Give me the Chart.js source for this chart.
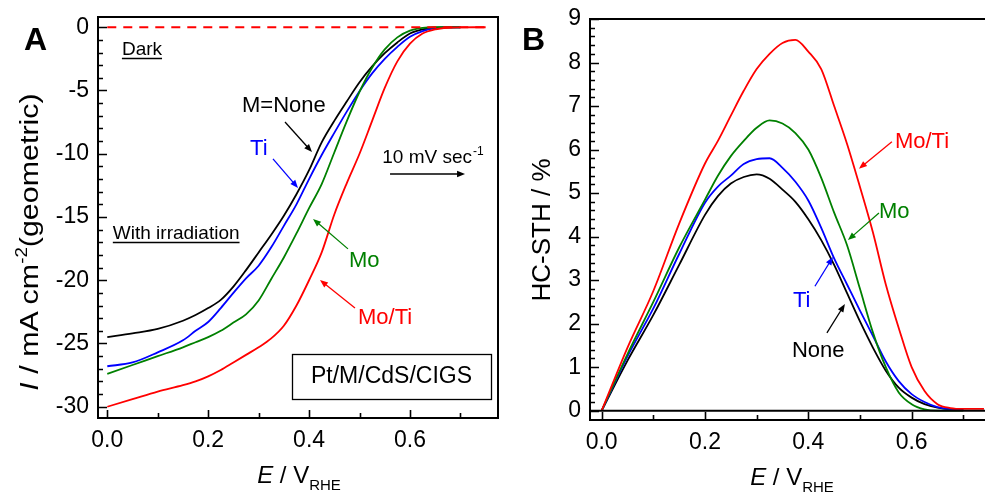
<!DOCTYPE html>
<html>
<head>
<meta charset="utf-8">
<script src="https://cdn.jsdelivr.net/npm/chart.js@4.4.1/dist/chart.umd.min.js"></script>
<style>
  body { margin: 0; background: #fff; }
  #wrap { position: relative; width: 985px; height: 498px; overflow: hidden; font-family: 'Liberation Sans', Arial, sans-serif; color: #000; }
  #wrap canvas { position: absolute; top: 0; }
  .lbl { position: absolute; white-space: nowrap; line-height: 1; }
  .panel { font-weight: bold; font-size: 32px; }
  .xt { font-size: 24px; transform: translateX(-50%); }
  .yt { font-size: 26px; transform: translate(-50%, -50%) rotate(-90deg); }
  .yt.long { transform: translate(-50%, -50%) rotate(-90deg) scaleX(1.17); }
  .lbl sub { font-size: 15px; vertical-align: baseline; position: relative; top: 7px; }
  .lbl sup { font-size: 16px; vertical-align: baseline; position: relative; top: -11px; }
</style>
</head>
<body>
<div id="wrap">
  <canvas id="chartA" width="505" height="498" style="left:0"></canvas>
  <canvas id="chartB" width="485" height="498" style="left:500px"></canvas>
  <div class="lbl panel" style="left:24px; top:23px">A</div>
  <div class="lbl panel" style="left:522px; top:23px">B</div>
  <div class="lbl yt long" style="left:29px; top:242px"><i>I</i> / mA cm<sup>-2</sup>(geometric)</div>
  <div class="lbl xt" style="left:299px; top:463px"><i>E</i> / V<sub>RHE</sub></div>
  <div class="lbl yt" style="left:541px; top:230px">HC-STH / %</div>
  <div class="lbl xt" style="left:792px; top:465px"><i>E</i> / V<sub>RHE</sub></div>
</div>
<script>
const FONT = "'Liberation Sans', Arial, Helvetica, sans-serif";

// ---- panel A: photocurrent density (mA cm^-2) vs potential (V vs RHE) ----
const potA = [0, 0.05, 0.1, 0.15, 0.175, 0.2, 0.225, 0.25, 0.275, 0.3, 0.325, 0.35, 0.375, 0.4, 0.425,
  0.45, 0.475, 0.5, 0.525, 0.55, 0.575, 0.6, 0.625, 0.65, 0.675, 0.7, 0.725, 0.75];
const jNone = [-24.5, -24.2, -23.85, -23.2, -22.75, -22.2, -21.55, -20.5, -19.2, -17.8, -16.4, -14.9, -13.2, -11.3, -9.1,
  -7.4, -5.85, -4.35, -3.1, -2.05, -1.2, -0.5, -0.17, -0.04, -0.01, 0, null, null];
const jTi = [-26.8, -26.5, -25.7, -24.75, -24.0, -23.3, -22.2, -21.0, -19.85, -18.85, -17.4, -15.7, -14.0, -12.0, -10.1,
  -8.35, -6.65, -5.05, -3.65, -2.5, -1.55, -0.75, -0.3, -0.07, -0.01, 0, null, null];
const jMo = [-27.4, -26.7, -26.0, -25.3, -24.9, -24.5, -24.0, -23.35, -22.7, -21.6, -19.9, -18.2, -16.3, -14.3, -12.4,
  -9.9, -7.4, -5.1, -3.2, -1.75, -0.8, -0.27, -0.05, 0, 0, 0, null, null];
const jMoTi = [-30.0, -29.4, -28.8, -28.3, -28.0, -27.6, -27.1, -26.5, -25.9, -25.3, -24.6, -23.6, -22.0, -20.0, -17.8,
  -14.8, -12.3, -10.0, -7.4, -4.8, -2.7, -1.3, -0.5, -0.17, -0.04, -0.01, 0, 0];
const darkPot = [0, 0.75];
const jDark = [0, 0];

const xTicksA = [0, 0.2, 0.4, 0.6];
const yTicksA = [-30, -25, -20, -15, -10, -5, 0];

// ---- panel B: half-cell solar-to-hydrogen efficiency (%) ----
const potB = [0, 0.05, 0.1, 0.15, 0.2, 0.225, 0.25, 0.275, 0.3, 0.325, 0.35, 0.375, 0.4,
  0.425, 0.45, 0.475, 0.5, 0.525, 0.55, 0.575, 0.6, 0.625, 0.65, 0.675, 0.7, 0.74];
const sthNone = [0, 1.15, 2.2, 3.35, 4.5, 4.93, 5.22, 5.37, 5.43, 5.33, 5.08, 4.8, 4.4,
  3.92, 3.35, 2.7, 2.05, 1.45, 0.92, 0.53, 0.3, 0.15, 0.07, 0.03, 0.02, null];
const sthTi = [0, 1.25, 2.35, 3.6, 4.78, 5.15, 5.4, 5.67, 5.78, 5.8, 5.58, 5.26, 4.83,
  4.2, 3.5, 2.9, 2.3, 1.72, 1.13, 0.68, 0.38, 0.2, 0.08, 0.03, 0.02, null];
const sthMo = [0, 1.3, 2.5, 3.75, 4.85, 5.4, 5.85, 6.2, 6.5, 6.67, 6.6, 6.38, 6.0,
  5.35, 4.55, 3.8, 2.8, 1.8, 1.0, 0.42, 0.15, 0.03, 0, 0, 0, null];
const sthMoTi = [0, 1.45, 2.75, 4.3, 5.68, 6.2, 6.78, 7.35, 7.85, 8.2, 8.45, 8.52, 8.25,
  7.85, 7.0, 6.13, 5.14, 4.1, 2.9, 1.9, 1.0, 0.45, 0.15, 0.06, 0.04, 0.04];

const xTicksB = [0, 0.2, 0.4, 0.6];
const yTicksB = [0, 1, 2, 3, 4, 5, 6, 7, 8, 9];

const RED = '#ff0000', GREEN = '#008000', BLUE = '#0000ff', BLACK = '#000000';

function toPoints(xs, ys) {
  return xs.map((x, i) => ({ x: x, y: ys[i] })).filter(p => p.y !== null);
}

function curve(xs, ys, color, extra) {
  return Object.assign({
    data: toPoints(xs, ys),
    borderColor: color,
    borderWidth: 1.8,
    pointRadius: 0,
    fill: false,
    cubicInterpolationMode: 'monotone'
  }, extra || {});
}

function drawArrow(ctx, x0, y0, x1, y1, color) {
  const ang = Math.atan2(y1 - y0, x1 - x0);
  const head = 8, half = 3.2;
  const c = Math.cos(ang), s = Math.sin(ang);
  ctx.strokeStyle = color;
  ctx.fillStyle = color;
  ctx.lineWidth = 1.3;
  ctx.beginPath();
  ctx.moveTo(x0, y0);
  ctx.lineTo(x1 - c * head * 0.8, y1 - s * head * 0.8);
  ctx.stroke();
  ctx.beginPath();
  ctx.moveTo(x1, y1);
  ctx.lineTo(x1 - head * c + half * s, y1 - head * s - half * c);
  ctx.lineTo(x1 - head * c - half * s, y1 - head * s + half * c);
  ctx.closePath();
  ctx.fill();
}

// frame plus inward major/minor tick marks
const framePlugin = {
  id: 'frame',
  afterDraw(chart, args, opts) {
    const { ctx, chartArea: a, scales: { x, y } } = chart;
    ctx.save();
    ctx.strokeStyle = '#000';
    ctx.lineWidth = 2;
    ctx.beginPath();
    ctx.moveTo(a.left, a.top); ctx.lineTo(a.right + 1, a.top);
    ctx.moveTo(a.left, a.top - 1); ctx.lineTo(a.left, a.bottom + 1);
    ctx.moveTo(a.left, a.bottom); ctx.lineTo(a.right + 1, a.bottom);
    if (opts.right) { ctx.moveTo(a.right, a.top - 1); ctx.lineTo(a.right, a.bottom + 1); }
    if (opts.zeroLine) {
      const py = y.getPixelForValue(0);
      ctx.moveTo(a.left, py); ctx.lineTo(a.right + 1, py);
    }
    ctx.stroke();

    const isMajor = (v, list) => list.some(t => Math.abs(t - v) < 1e-6);
    ctx.lineWidth = 1.6;
    ctx.beginPath();
    for (let i = 0; ; i++) {
      const v = opts.yFrom + i * opts.yStep;
      if (v > y.max + 1e-9) break;
      if (v < y.min) continue;
      const py = Math.round(y.getPixelForValue(v)) + 0.5;
      const len = isMajor(v, opts.yMajor) ? 9 : 5;
      ctx.moveTo(a.left, py); ctx.lineTo(a.left + len, py);
    }
    for (let i = 0; ; i++) {
      const v = opts.xFrom + i * opts.xStep;
      if (v > x.max + 1e-9) break;
      const px = Math.round(x.getPixelForValue(v)) + 0.5;
      const len = isMajor(v, opts.xMajor) ? 8 : 5;
      ctx.moveTo(px, a.bottom); ctx.lineTo(px, a.bottom - len);
    }
    ctx.stroke();
    ctx.restore();
  }
};

// curve labels, pointer arrows and the sample box
const notesPlugin = {
  id: 'notes',
  afterDatasetsDraw(chart, args, opts) {
    const { ctx, scales: { x, y } } = chart;
    ctx.save();
    (opts.arrows || []).forEach(ar => {
      drawArrow(ctx, x.getPixelForValue(ar.from[0]), y.getPixelForValue(ar.from[1]),
        x.getPixelForValue(ar.to[0]), y.getPixelForValue(ar.to[1]), ar.color);
    });
    (opts.boxes || []).forEach(b => {
      const x0 = x.getPixelForValue(b.x0), x1 = x.getPixelForValue(b.x1);
      const y0 = y.getPixelForValue(b.y0), y1 = y.getPixelForValue(b.y1);
      ctx.strokeStyle = '#000';
      ctx.lineWidth = 1.3;
      ctx.strokeRect(Math.round(x0) + 0.5, Math.round(y0) + 0.5, Math.round(x1 - x0), Math.round(y1 - y0));
    });
    (opts.labels || []).forEach(l => {
      const px = x.getPixelForValue(l.x), py = y.getPixelForValue(l.y);
      ctx.font = `${l.size}px ${FONT}`;
      ctx.fillStyle = l.color;
      ctx.textBaseline = 'alphabetic';
      ctx.textAlign = l.align || 'left';
      ctx.fillText(l.text, px, py);
      const w = ctx.measureText(l.text).width;
      if (l.sup) {
        ctx.font = `${Math.round(l.size * 0.62)}px ${FONT}`;
        ctx.textAlign = 'left';
        ctx.fillText(l.sup, px + w + 1, py - l.size * 0.42);
      }
      if (l.underline) {
        ctx.strokeStyle = l.color;
        ctx.lineWidth = 1.4;
        ctx.beginPath();
        ctx.moveTo(px, Math.round(py + 3) + 0.5);
        ctx.lineTo(px + w, Math.round(py + 3) + 0.5);
        ctx.stroke();
      }
    });
    ctx.restore();
  }
};

// tick labels may overhang the plot area; keep the area fixed by the layout padding
function noOverhang(s) {
  s.paddingTop = 0; s.paddingBottom = 0; s.paddingLeft = 0; s.paddingRight = 0;
}

function axisX(min, max, ticks, height) {
  return {
    type: 'linear', min: min, max: max,
    afterBuildTicks: s => { s.ticks = ticks.map(v => ({ value: v })); },
    afterFit: s => { s.height = height; noOverhang(s); },
    grid: { display: false, drawTicks: false },
    border: { display: false },
    ticks: { autoSkip: false, maxRotation: 0, padding: 9, color: '#000',
      font: { family: FONT, size: 23 }, callback: v => v.toFixed(1) }
  };
}

function axisY(min, max, ticks, width) {
  return {
    type: 'linear', min: min, max: max,
    afterBuildTicks: s => { s.ticks = ticks.map(v => ({ value: v })); },
    afterFit: s => { s.width = width; noOverhang(s); },
    grid: { display: false, drawTicks: false },
    border: { display: false },
    ticks: { autoSkip: false, padding: 9, color: '#000',
      font: { family: FONT, size: 23 }, callback: v => String(v) }
  };
}

new Chart(document.getElementById('chartA'), {
  type: 'line',
  data: {
    datasets: [
      curve(darkPot, jDark, RED, { borderDash: [9, 7], cubicInterpolationMode: 'default', tension: 0 }),
      curve(potA, jMoTi, RED),
      curve(potA, jMo, GREEN),
      curve(potA, jTi, BLUE),
      curve(potA, jNone, BLACK)
    ]
  },
  options: {
    responsive: false,
    animation: false,
    layout: { padding: { top: 17, right: 7, left: 0, bottom: 0 } },
    plugins: {
      legend: { display: false },
      tooltip: { enabled: false },
      frame: { right: true, yFrom: -30, yStep: 1, yMajor: yTicksA, xFrom: 0, xStep: 0.1, xMajor: xTicksA },
      notes: {
        labels: [
          { text: 'Dark', x: 0.029, y: -2.19, color: BLACK, size: 19, underline: true },
          { text: 'With irradiation', x: 0.011, y: -16.74, color: BLACK, size: 19, underline: true },
          { text: 'M=None', x: 0.267, y: -6.7, color: BLACK, size: 22 },
          { text: 'Ti', x: 0.283, y: -10.09, color: BLUE, size: 22 },
          { text: '10 mV sec', sup: '-1', x: 0.545, y: -10.73, color: BLACK, size: 19 },
          { text: 'Mo', x: 0.479, y: -18.95, color: GREEN, size: 22 },
          { text: 'Mo/Ti', x: 0.497, y: -23.45, color: RED, size: 22 },
          { text: 'Pt/M/CdS/CIGS', x: 0.5634, y: -28.12, color: BLACK, size: 23, align: 'center' }
        ],
        arrows: [
          { from: [0.3523, -7.49], to: [0.4058, -9.86], color: BLACK },
          { from: [0.3285, -10.41], to: [0.3781, -12.7], color: BLUE },
          { from: [0.5605, -11.6], to: [0.7092, -11.6], color: BLACK },
          { from: [0.4771, -17.52], to: [0.4078, -15.15], color: GREEN },
          { from: [0.491, -22.19], to: [0.4216, -19.98], color: RED }
        ],
        boxes: [{ x0: 0.3662, x1: 0.7607, y0: -25.83, y1: -29.38 }]
      }
    },
    scales: {
      x: axisX(-0.0184, 0.7745, xTicksA, 80),
      y: axisY(-30.89, 0.81, yTicksA, 98)
    }
  },
  plugins: [framePlugin, notesPlugin]
});

new Chart(document.getElementById('chartB'), {
  type: 'line',
  data: {
    datasets: [
      curve(potB, sthMoTi, RED),
      curve(potB, sthMo, GREEN),
      curve(potB, sthTi, BLUE),
      curve(potB, sthNone, BLACK)
    ]
  },
  options: {
    responsive: false,
    animation: false,
    layout: { padding: { top: 19, right: 0, left: 0, bottom: 0 } },
    plugins: {
      legend: { display: false },
      tooltip: { enabled: false },
      frame: { right: false, zeroLine: true, yFrom: 0, yStep: 0.2, yMajor: yTicksB, xFrom: 0, xStep: 0.1, xMajor: xTicksB },
      notes: {
        labels: [
          { text: 'Mo/Ti', x: 0.5676, y: 6.04, color: RED, size: 22 },
          { text: 'Mo', x: 0.5367, y: 4.43, color: GREEN, size: 22 },
          { text: 'Ti', x: 0.3702, y: 2.38, color: BLUE, size: 22 },
          { text: 'None', x: 0.3683, y: 1.23, color: BLACK, size: 22 }
        ],
        arrows: [
          { from: [0.5618, 6.18], to: [0.498, 5.56], color: RED },
          { from: [0.5367, 4.54], to: [0.4767, 3.92], color: GREEN },
          { from: [0.4128, 2.86], to: [0.4476, 3.53], color: BLUE },
          { from: [0.436, 1.79], to: [0.4708, 2.45], color: BLACK }
        ]
      }
    },
    scales: {
      x: axisX(-0.0226, 0.742, xTicksB, 78),
      y: axisY(-0.214, 9.0, yTicksB, 90)
    }
  },
  plugins: [framePlugin, notesPlugin]
});
</script>
</body>
</html>
